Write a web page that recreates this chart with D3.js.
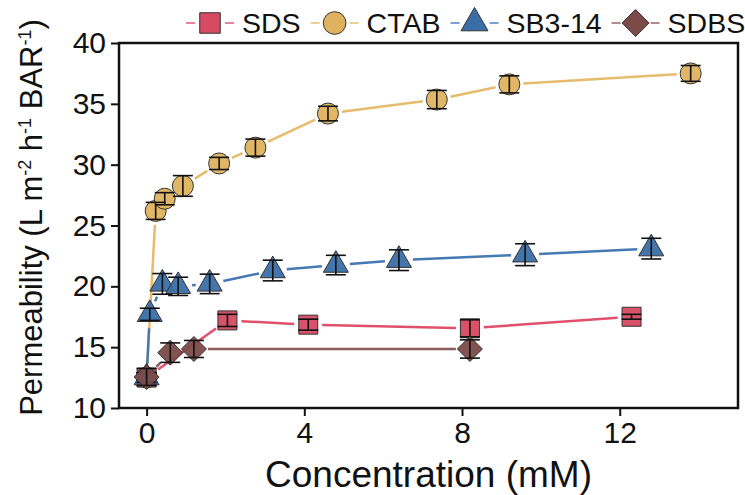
<!DOCTYPE html>
<html>
<head>
<meta charset="utf-8">
<script src="https://cdn.jsdelivr.net/npm/d3@7"></script>
<style>
  body { margin: 0; background: #fff; }
  text { font-family: "Liberation Sans", Arial, Helvetica, sans-serif; fill: #111; }
</style>
</head>
<body>
<svg id="chart" width="745" height="495"></svg>
<script>
// data (concentration in mM, permeability in L m-2 h-1 BAR-1)
let seriesNames = ["SDS", "CTAB", "SB3-14", "SDBS"];

let sdsX = [0, 2.05, 4.1, 8.2, 12.3];
let sdsY = [12.5, 17.2, 16.85, 16.55, 17.5];
let sdsErr = [0.4, 0.5, 0.45, 0.7, 0.2];

let ctabX = [0, 0.23, 0.46, 0.92, 1.84, 2.76, 4.6, 7.36, 9.2, 13.8];
let ctabY = [12.5, 26.2, 27.2, 28.25, 30.1, 31.4, 34.2, 35.35, 36.6, 37.5];
let ctabErr = [0.4, 0.7, 0.5, 0.85, 0.5, 0.7, 0.6, 0.75, 0.7, 0.65];

let sbX = [0, 0.08, 0.4, 0.8, 1.6, 3.2, 4.8, 6.4, 9.6, 12.8];
let sbY = [12.5, 17.7, 20.2, 20.0, 20.2, 21.3, 21.75, 22.15, 22.6, 23.1];
let sbErr = [0.4, 0.5, 0.85, 0.75, 0.8, 0.85, 0.8, 0.85, 0.9, 0.85];

let sdbsX = [0, 0.6, 1.2, 8.2];
let sdbsY = [12.55, 14.55, 14.85, 14.85];
let sdbsErr = [0.7, 0.8, 0.7, 0.75];

let xTicks = [0, 4, 8, 12];
let yTicks = [10, 15, 20, 25, 30, 35, 40];

function pack(xs, ys, es) {
  return xs.map((x, i) => ({x: x, y: ys[i], e: es[i]}));
}

let series = [
  {name: seriesNames[0], data: pack(sdsX, sdsY, sdsErr), fill: "#d64a62", line: "#e0506a", shape: "square"},
  {name: seriesNames[1], data: pack(ctabX, ctabY, ctabErr), fill: "#dfb25f", line: "#e6bb6c", shape: "circle"},
  {name: seriesNames[2], data: pack(sbX, sbY, sbErr), fill: "#3a6ea6", line: "#4479b3", shape: "triangle"},
  {name: seriesNames[3], data: pack(sdbsX, sdbsY, sdbsErr), fill: "#7c4a49", line: "#8c5b5b", shape: "diamond"}
];

let svg = d3.select("#chart");
let mLeft = 119, mRight = 738, mTop = 43, mBottom = 408;

let x = d3.scaleLinear().domain([-0.7, 15]).range([mLeft, mRight]);
let y = d3.scaleLinear().domain([10, 40]).range([mBottom, mTop]);

// marker paths centred on 0,0
function markerPath(shape, s) {
  if (shape === "square") {
    let h = 9.5 * s;
    return `M${-h},${-h}H${h}V${h}H${-h}Z`;
  }
  if (shape === "circle") {
    let r = 10.5 * s;
    return `M${r},0A${r},${r} 0 1,1 ${-r},0A${r},${r} 0 1,1 ${r},0Z`;
  }
  if (shape === "triangle") {
    let w = 12.5 * s, hh = w * Math.sqrt(3);
    return `M0,${-hh * 2 / 3}L${w},${hh / 3}L${-w},${hh / 3}Z`;
  }
  let d = 12.5 * s;
  return `M0,${-d}L${d},0L0,${d}L${-d},0Z`;
}

// axes
let xAxis = svg.append("g")
  .attr("transform", `translate(0,${mBottom})`)
  .call(d3.axisBottom(x).tickValues(xTicks).tickSize(8).tickPadding(6));
let yAxis = svg.append("g")
  .attr("transform", `translate(${mLeft},0)`)
  .call(d3.axisLeft(y).tickValues(yTicks).tickSize(8).tickPadding(5));

[xAxis, yAxis].forEach(a => {
  a.select(".domain").remove();
  a.selectAll(".tick line").attr("stroke", "#111").attr("stroke-width", 2);
  a.selectAll(".tick text")
    .style("font-size", "30px")
    .style("font-family", "'Liberation Sans', Arial, sans-serif")
    .attr("fill", "#111");
});

// frame
svg.append("rect")
  .attr("x", mLeft).attr("y", mTop)
  .attr("width", mRight - mLeft).attr("height", mBottom - mTop)
  .attr("fill", "none").attr("stroke", "#111").attr("stroke-width", 2.5);

// series: gapped line, markers, error bars
let gap = 14;
series.forEach(s => {
  let g = svg.append("g");
  let pts = s.data.map(d => [x(d.x), y(d.y)]);
  for (let i = 0; i < pts.length - 1; i++) {
    let [x1, y1] = pts[i], [x2, y2] = pts[i + 1];
    let len = Math.hypot(x2 - x1, y2 - y1);
    if (len <= 2 * gap + 1) continue;
    let ux = (x2 - x1) / len, uy = (y2 - y1) / len;
    g.append("line")
      .attr("x1", x1 + ux * gap).attr("y1", y1 + uy * gap)
      .attr("x2", x2 - ux * gap).attr("y2", y2 - uy * gap)
      .attr("stroke", s.line).attr("stroke-width", 2.5);
  }

  g.selectAll("path.mark")
    .data(s.data)
    .enter()
    .append("path")
    .attr("class", "mark")
    .attr("transform", d => `translate(${x(d.x)},${y(d.y)})`)
    .attr("d", markerPath(s.shape, 1))
    .attr("fill", s.fill)
    .attr("fill-opacity", 0.95)
    .attr("stroke", "#333")
    .attr("stroke-width", 1);

  let cap = 10;
  let eb = g.selectAll("g.err")
    .data(s.data)
    .enter()
    .append("g")
    .attr("class", "err")
    .attr("stroke", "#111")
    .attr("stroke-width", 1.6);
  eb.append("line")
    .attr("x1", d => x(d.x)).attr("x2", d => x(d.x))
    .attr("y1", d => y(d.y + d.e)).attr("y2", d => y(d.y - d.e));
  eb.append("line")
    .attr("x1", d => x(d.x) - cap).attr("x2", d => x(d.x) + cap)
    .attr("y1", d => y(d.y + d.e)).attr("y2", d => y(d.y + d.e));
  eb.append("line")
    .attr("x1", d => x(d.x) - cap).attr("x2", d => x(d.x) + cap)
    .attr("y1", d => y(d.y - d.e)).attr("y2", d => y(d.y - d.e));
});

// axis titles
svg.append("text")
  .attr("x", (mLeft + mRight) / 2)
  .attr("y", 487)
  .attr("text-anchor", "middle")
  .style("font-size", "37px")
  .text("Concentration (mM)");

let yt = svg.append("text")
  .attr("transform", `translate(42,${(mTop + mBottom) / 2 - 8}) rotate(-90)`)
  .attr("text-anchor", "middle")
  .style("font-size", "31px");
yt.append("tspan").text("Permeability (L m");
yt.append("tspan").attr("dy", -11).style("font-size", "18px").text("-2");
yt.append("tspan").attr("dy", 11).text(" h");
yt.append("tspan").attr("dy", -11).style("font-size", "18px").text("-1");
yt.append("tspan").attr("dy", 11).text(" BAR");
yt.append("tspan").attr("dy", -11).style("font-size", "18px").text("-1");
yt.append("tspan").attr("dy", 11).text(")");

// legend along the top
let legend = svg.append("g");
let lx = 186, ly = 23;
series.forEach(s => {
  let item = legend.append("g");
  item.append("line")
    .attr("x1", lx).attr("x2", lx + 9).attr("y1", ly).attr("y2", ly)
    .attr("stroke", s.line).attr("stroke-width", 2).attr("stroke-opacity", 0.7);
  item.append("path")
    .attr("transform", `translate(${lx + 24},${ly})`)
    .attr("d", markerPath(s.shape, 1.08))
    .attr("fill", s.fill)
    .attr("stroke", "#333").attr("stroke-width", 1);
  item.append("line")
    .attr("x1", lx + 39).attr("x2", lx + 48).attr("y1", ly).attr("y2", ly)
    .attr("stroke", s.line).attr("stroke-width", 2).attr("stroke-opacity", 0.7);
  let t = item.append("text")
    .attr("x", lx + 56).attr("y", ly + 10)
    .style("font-size", "28.5px")
    .text(s.name);
  lx = lx + 56 + t.node().getComputedTextLength() + 10;
});
</script>
</body>
</html>
